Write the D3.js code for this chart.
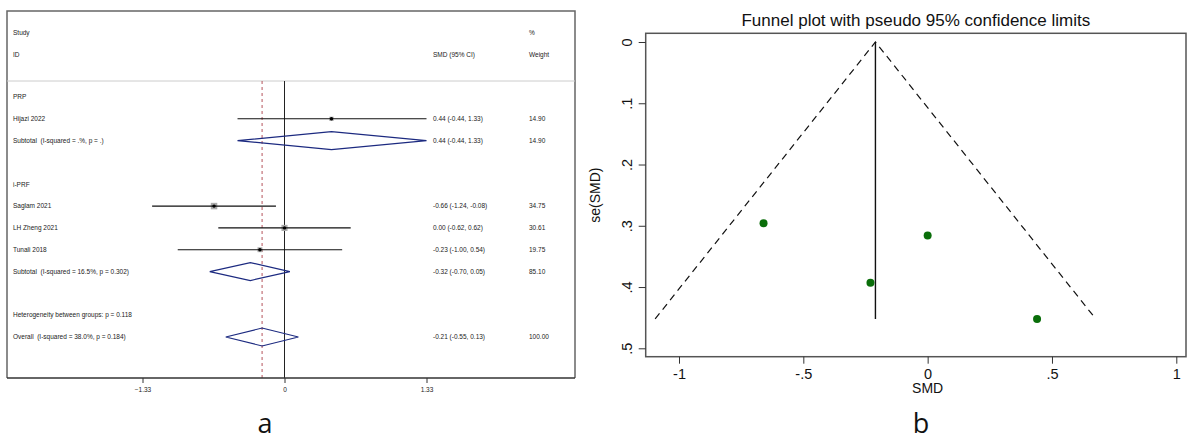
<!DOCTYPE html>
<html>
<head>
<meta charset="utf-8">
<script src="https://cdn.jsdelivr.net/npm/d3@7"></script>
<style>
  body { margin: 0; background: #fff; }
  svg { display: block; font-family: "Liberation Sans", Arial, sans-serif; }
  text { white-space: pre; }
</style>
</head>
<body>
<svg id="chart" width="1192" height="440"></svg>
<script>
// forest plot data (panel a)
var groups      = ["PRP", "i-PRF"]
var studies     = ["Hijazi 2022", "Saglam 2021", "LH Zheng 2021", "Tunali 2018"]
var studyGroup  = ["PRP", "i-PRF", "i-PRF", "i-PRF"]
var smd         = [0.44, -0.66, 0.00, -0.23]
var lower       = [-0.44, -1.24, -0.62, -1.00]
var upper       = [1.33, -0.08, 0.62, 0.54]
var weights     = [14.90, 34.75, 30.61, 19.75]
var ciText      = ["0.44 (-0.44, 1.33)", "-0.66 (-1.24, -0.08)", "0.00 (-0.62, 0.62)", "-0.23 (-1.00, 0.54)"]

var subLabels   = ["Subtotal  (I-squared = .%, p = .)", "Subtotal  (I-squared = 16.5%, p = 0.302)"]
var subSmd      = [0.44, -0.32]
var subLower    = [-0.44, -0.70]
var subUpper    = [1.33, 0.05]
var subWeight   = [14.90, 85.10]
var subText     = ["0.44 (-0.44, 1.33)", "-0.32 (-0.70, 0.05)"]

var hetText     = "Heterogeneity between groups: p = 0.118"
var overall     = {label: "Overall  (I-squared = 38.0%, p = 0.184)", smd: -0.21, lo: -0.55, hi: 0.13, w: 100.00, text: "-0.21 (-0.55, 0.13)"}
var forestTicks = [-1.33, 0, 1.33]

// funnel plot data (panel b)
var funnelSmd   = [0.44, -0.66, 0.00, -0.23]
var funnelSe    = [0.452, 0.296, 0.316, 0.393]
var pooled      = -0.21
var funnelXTicks = [-1, -0.5, 0, 0.5, 1]
var funnelYTicks = [0, 0.1, 0.2, 0.3, 0.4, 0.5]

var svg = d3.select("#chart")

function fmtStata (v) {
	if (v === 0) return "0"
	var s = String(v)
	return s.replace(/^0\./, ".").replace(/^-0\./, "-.")
}

// ---------- panel a : forest plot ----------
var fx = d3.scaleLinear().domain([-1.33, 1.33]).range([142.5, 426.5]),
    fy = d3.scaleLinear().domain([0, 11]).range([97, 337])

var boxL = 7, boxR = 575, boxT = 11, boxB = 378, sepY = 81

var rows = []
var r = 0
groups.forEach((g, gi) => {
	rows.push({type: "head", label: g, row: r++})
	studies.forEach((s, i) => {
		if (studyGroup[i] === g) rows.push({type: "study", label: s, smd: smd[i], lo: lower[i], hi: upper[i], w: weights[i], text: ciText[i], row: r++})
	})
	rows.push({type: "sub", label: subLabels[gi], smd: subSmd[gi], lo: subLower[gi], hi: subUpper[gi], w: subWeight[gi], text: subText[gi], row: r++})
	r++
})
rows.push({type: "het", label: hetText, row: r})
rows.push({type: "sub", label: overall.label, smd: overall.smd, lo: overall.lo, hi: overall.hi, w: overall.w, text: overall.text, row: r + 1})

var fa = svg.append("g")

fa.append("path")
  .attr("d", `M${boxL},${boxB}V${boxT}H${boxR}V${boxB}`)
  .attr("fill", "none").attr("stroke", "#666").attr("stroke-width", 1.5)
fa.append("line")
  .attr("x1", boxL).attr("x2", boxR).attr("y1", sepY).attr("y2", sepY)
  .attr("stroke", "#ccc").attr("stroke-width", 1)

// headers
var hdr = [
	{t: "Study", x: 13, y: 33}, {t: "ID", x: 13, y: 55},
	{t: "SMD (95% CI)", x: 433, y: 55},
	{t: "%", x: 529, y: 33}, {t: "Weight", x: 529, y: 55}
]
fa.selectAll(".hdr").data(hdr).enter().append("text")
  .attr("x", d => d.x).attr("y", d => d.y).attr("dy", "0.35em")
  .attr("font-size", 6.5).attr("fill", "#222").text(d => d.t)

// reference lines
fa.append("line")
  .attr("x1", fx(0)).attr("x2", fx(0)).attr("y1", sepY).attr("y2", boxB)
  .attr("stroke", "#222").attr("stroke-width", 1)
fa.append("line")
  .attr("x1", fx(overall.smd)).attr("x2", fx(overall.smd)).attr("y1", sepY).attr("y2", boxB)
  .attr("stroke", "#b5545c").attr("stroke-width", 1).attr("stroke-dasharray", "3,3")

// row labels
fa.selectAll(".lab").data(rows).enter().append("text")
  .attr("x", 13).attr("y", d => fy(d.row)).attr("dy", "0.35em")
  .attr("font-size", 6.5).attr("fill", "#222").text(d => d.label)

var est = rows.filter(d => d.type === "study" || d.type === "sub")
fa.selectAll(".ci").data(est).enter().append("text")
  .attr("x", 433).attr("y", d => fy(d.row)).attr("dy", "0.35em")
  .attr("font-size", 6.5).attr("fill", "#222").text(d => d.text)
fa.selectAll(".wt").data(est).enter().append("text")
  .attr("x", 529).attr("y", d => fy(d.row)).attr("dy", "0.35em")
  .attr("font-size", 6.5).attr("fill", "#222").text(d => d.w.toFixed(2))

var st = rows.filter(d => d.type === "study")
var boxSize = d3.scaleSqrt().domain([0, 34.75]).range([0, 6.5])
fa.selectAll(".wbox").data(st).enter().append("rect")
  .attr("x", d => fx(d.smd) - boxSize(d.w) / 2).attr("y", d => fy(d.row) - boxSize(d.w) / 2)
  .attr("width", d => boxSize(d.w)).attr("height", d => boxSize(d.w))
  .attr("fill", "#aaa")
fa.selectAll(".ciline").data(st).enter().append("line")
  .attr("x1", d => fx(d.lo)).attr("x2", d => fx(d.hi))
  .attr("y1", d => fy(d.row)).attr("y2", d => fy(d.row))
  .attr("stroke", "#111").attr("stroke-width", 1.1)
fa.selectAll(".dot").data(st).enter().append("circle")
  .attr("cx", d => fx(d.smd)).attr("cy", d => fy(d.row)).attr("r", 1.7)
  .attr("fill", "#000")

var sub = rows.filter(d => d.type === "sub")
fa.selectAll(".diam").data(sub).enter().append("path")
  .attr("d", d => {
	var y = fy(d.row), h = 9
	return `M${fx(d.lo)},${y}L${fx(d.smd)},${y - h}L${fx(d.hi)},${y}L${fx(d.smd)},${y + h}Z`
  })
  .attr("fill", "none").attr("stroke", "#1c2a80").attr("stroke-width", 1.2)

// x axis
var fAxis = fa.append("g").attr("transform", `translate(0,${boxB})`)
  .call(d3.axisBottom(fx).tickValues(forestTicks).tickSize(5).tickFormat(d => d === 0 ? "0" : d3.format(".2f")(d)))
fAxis.select(".domain").remove()
fAxis.selectAll("text").attr("font-size", 6.5).attr("fill", "#222").attr("dy", "0.9em")
fAxis.selectAll("line").attr("stroke", "#333")
fa.append("line")
  .attr("x1", boxL).attr("x2", boxR).attr("y1", boxB).attr("y2", boxB)
  .attr("stroke", "#333").attr("stroke-width", 1.5)

svg.append("text").attr("x", 265).attr("y", 433)
  .attr("text-anchor", "middle").attr("font-size", 27)
  .attr("font-family", "'Open Sans', sans-serif").attr("fill", "#111").text("a")

// ---------- panel b : funnel plot ----------
var px = d3.scaleLinear().domain([-1, 1]).range([679, 1176.3]),
    py = d3.scaleLinear().domain([0, 0.5]).range([42, 348.3])

var pL = 645.7, pR = 1186, pT = 33.3, pB = 356.7
var fb = svg.append("g")

fb.append("rect")
  .attr("x", pL).attr("y", pT).attr("width", pR - pL).attr("height", pB - pT)
  .attr("fill", "none").attr("stroke", "#555").attr("stroke-width", 1.5)

svg.append("text").attr("x", (pL + pR) / 2).attr("y", 26)
  .attr("text-anchor", "middle").attr("font-size", 17).attr("fill", "#111")
  .text("Funnel plot with pseudo 95% confidence limits")

var seMax = d3.max(funnelSe)
var funnel = [[pooled - 1.96 * seMax, seMax], [pooled, 0], [pooled + 1.96 * seMax, seMax]]
fb.append("path")
  .attr("d", d3.line().x(d => px(d[0])).y(d => py(d[1]))(funnel))
  .attr("fill", "none").attr("stroke", "#111").attr("stroke-width", 1.2).attr("stroke-dasharray", "7,5")
fb.append("line")
  .attr("x1", px(pooled)).attr("x2", px(pooled)).attr("y1", py(0)).attr("y2", py(seMax))
  .attr("stroke", "#111").attr("stroke-width", 1.4)

fb.selectAll(".pt").data(funnelSmd).enter().append("circle")
  .attr("cx", d => px(d)).attr("cy", (d, i) => py(funnelSe[i])).attr("r", 4)
  .attr("fill", "#0a6e0a")

var xAx = fb.append("g").attr("transform", `translate(0,${pB})`)
  .call(d3.axisBottom(px).tickValues(funnelXTicks).tickSize(7).tickFormat(fmtStata))
xAx.select(".domain").remove()
xAx.selectAll("line").attr("stroke", "#333")
xAx.selectAll("text").attr("font-size", 14.5).attr("fill", "#111").attr("dy", "0.85em")

var yAx = fb.append("g").attr("transform", `translate(${pL},0)`)
  .call(d3.axisLeft(py).tickValues(funnelYTicks).tickSize(7).tickFormat(fmtStata))
yAx.select(".domain").remove()
yAx.selectAll("line").attr("stroke", "#333")
yAx.selectAll("text")
  .attr("font-size", 14.5).attr("fill", "#111")
  .attr("x", null).attr("dy", null)
  .attr("text-anchor", "middle")
  .attr("transform", "translate(-19,0) rotate(-90)")
  .attr("dy", "0.35em")

svg.append("text").attr("x", px(0)).attr("y", 393)
  .attr("text-anchor", "middle").attr("font-size", 14).attr("fill", "#111").text("SMD")
svg.append("text").attr("transform", `translate(600,${py(0.25)}) rotate(-90)`)
  .attr("text-anchor", "middle").attr("font-size", 14).attr("fill", "#111").text("se(SMD)")

svg.append("text").attr("x", 921).attr("y", 433)
  .attr("text-anchor", "middle").attr("font-size", 27)
  .attr("font-family", "'Open Sans', sans-serif").attr("fill", "#111").text("b")
</script>
</body>
</html>
